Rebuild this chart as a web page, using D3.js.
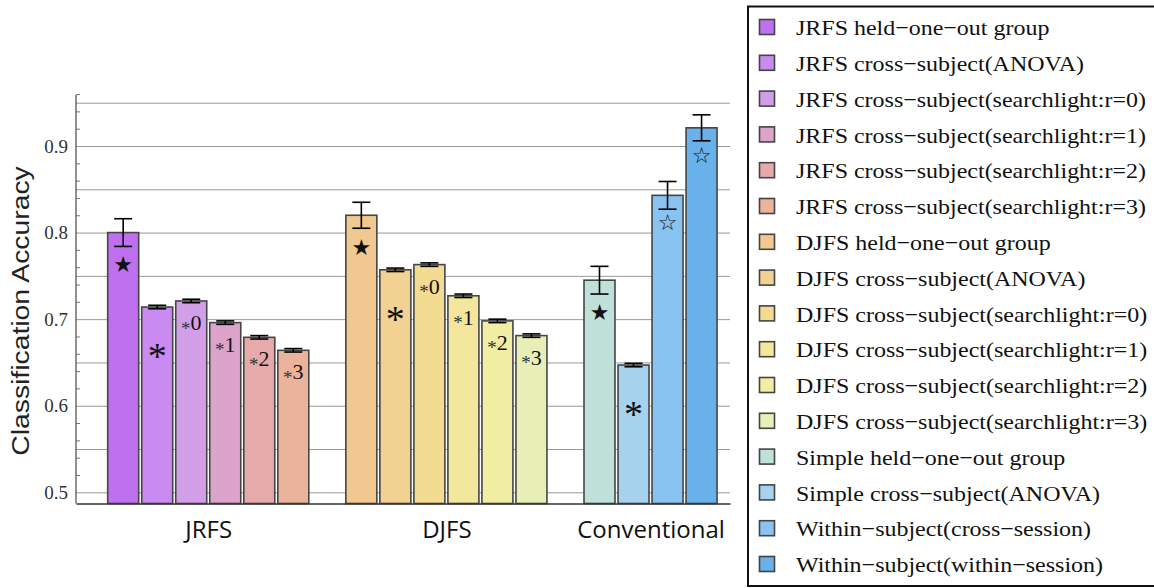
<!DOCTYPE html>
<html>
<head>
<meta charset="utf-8">
<script src="https://cdn.jsdelivr.net/npm/d3@7"></script>
<style>
  html, body { margin: 0; padding: 0; background: #fff; }
  svg { display: block; }
</style>
</head>
<body>
<svg id="chart" width="1154" height="588"></svg>
<script>
// Groups of bars along the x axis and how many bars each holds
const groups = ["JRFS", "DJFS", "Conventional"];
const groupSizes = [6, 6, 4];

// One entry per bar (also the legend rows)
const seriesNames = [
  "JRFS held\u2212one\u2212out group",
  "JRFS cross\u2212subject(ANOVA)",
  "JRFS cross\u2212subject(searchlight:r=0)",
  "JRFS cross\u2212subject(searchlight:r=1)",
  "JRFS cross\u2212subject(searchlight:r=2)",
  "JRFS cross\u2212subject(searchlight:r=3)",
  "DJFS held\u2212one\u2212out group",
  "DJFS cross\u2212subject(ANOVA)",
  "DJFS cross\u2212subject(searchlight:r=0)",
  "DJFS cross\u2212subject(searchlight:r=1)",
  "DJFS cross\u2212subject(searchlight:r=2)",
  "DJFS cross\u2212subject(searchlight:r=3)",
  "Simple held\u2212one\u2212out group",
  "Simple cross\u2212subject(ANOVA)",
  "Within\u2212subject(cross\u2212session)",
  "Within\u2212subject(within\u2212session)"
];
const accuracy = [0.800, 0.714, 0.721, 0.696, 0.679, 0.664,
                  0.820, 0.757, 0.763, 0.727, 0.698, 0.681,
                  0.745, 0.647, 0.843, 0.921];
const errors   = [0.016, 0.002, 0.002, 0.002, 0.002, 0.002,
                  0.015, 0.002, 0.002, 0.002, 0.002, 0.002,
                  0.016, 0.002, 0.016, 0.015];
const markers  = ["\u2605", "*", "*0", "*1", "*2", "*3",
                  "\u2605", "*", "*0", "*1", "*2", "*3",
                  "\u2605", "*", "\u2606", "\u2606"];
const colors   = ["#bf70ef", "#c98af1", "#d39ee8", "#dca3cb", "#e6aaab", "#ebb39c",
                  "#f0c890", "#f2d292", "#f3dc92", "#f3e69d", "#f1eea3", "#e7efb7",
                  "#c0e0da", "#a7d2ee", "#89c3f2", "#69b1ea"];
const yTicks = [0.5, 0.6, 0.7, 0.8, 0.9];

// slot index of each bar: groups are separated by one empty slot
const bars = [];
let idx = 0;
groupSizes.forEach((n, g) => {
  const start = groupSizes.slice(0, g).reduce((a, b) => a + b + 1, 0);
  for (let k = 0; k < n; k++, idx++) {
    bars.push({ i: idx, slot: start + k, value: accuracy[idx], err: errors[idx],
                mark: markers[idx], color: colors[idx], name: seriesNames[idx] });
  }
});
const groupCenters = groupSizes.map((n, g) => {
  const start = groupSizes.slice(0, g).reduce((a, b) => a + b + 1, 0);
  return start + (n - 1) / 2;
});

const svg = d3.select("#chart");
const plotLeft = 76, plotRight = 730, plotTop = 95, plotBottom = 503.5;

const y = d3.scaleLinear().domain([0.5, 0.9]).range([492.3, 146]);
const yBase = y.invert(plotBottom);
const x = d3.scaleLinear().domain([-1.387, 17.836]).range([plotLeft, plotRight]);
const barW = 31;

// gridlines every 0.05
const gridVals = d3.range(0.5, 0.951, 0.05);
svg.append("g")
  .attr("transform", `translate(${plotLeft},0)`)
  .call(d3.axisLeft(y).tickValues(gridVals).tickSize(-(plotRight - plotLeft)).tickFormat(""))
  .call(g => g.select(".domain").remove())
  .call(g => g.selectAll("line").attr("stroke", "#999").attr("stroke-width", 1));

// minor ticks on the y axis
const minorVals = d3.range(0.5, 0.961, 0.02).filter(v => Math.abs(v * 10 - Math.round(v * 10)) > 1e-6);
svg.append("g")
  .attr("transform", `translate(${plotLeft},0)`)
  .call(d3.axisLeft(y).tickValues(minorVals).tickSize(-4).tickFormat(""))
  .call(g => g.select(".domain").remove())
  .call(g => g.selectAll("line").attr("stroke", "#777").attr("stroke-width", 1));

// bars
svg.append("g").selectAll("rect").data(bars).join("rect")
  .attr("x", d => x(d.slot) - barW / 2)
  .attr("y", d => y(d.value))
  .attr("width", barW)
  .attr("height", d => y(yBase) - y(d.value))
  .attr("fill", d => d.color)
  .attr("stroke", "#454545")
  .attr("stroke-width", 1.6);

// error bars
const eb = svg.append("g").attr("stroke", "#000").attr("stroke-width", 1.6);
bars.forEach(d => {
  const cx = x(d.slot);
  eb.append("line").attr("x1", cx).attr("x2", cx).attr("y1", y(d.value + d.err)).attr("y2", y(d.value - d.err));
  eb.append("line").attr("x1", cx - 9).attr("x2", cx + 9).attr("y1", y(d.value + d.err)).attr("y2", y(d.value + d.err));
  eb.append("line").attr("x1", cx - 9).attr("x2", cx + 9).attr("y1", y(d.value - d.err)).attr("y2", y(d.value - d.err));
});

// significance markers inside bars
const mg = svg.append("g");
bars.forEach(d => {
  const cx = x(d.slot);
  const t = mg.append("text").attr("x", cx).attr("text-anchor", "middle").attr("fill", "#111");
  if (d.mark === "\u2605" || d.mark === "\u2606") {
    const off = d.mark === "\u2605" ? 32 : 27;
    t.attr("y", y(d.value) + off).attr("dy", "0.36em")
     .attr("font-family", "DejaVu Sans").attr("font-size", 22).text(d.mark);
  } else if (d.mark === "*") {
    // serif asterisk sits high in the em box, so push it down
    t.attr("y", y(d.value) + 39).attr("dy", "0.6em")
     .attr("font-family", "Liberation Serif").attr("font-size", 38).text(d.mark);
  } else {
    t.attr("y", y(d.value) + 29).attr("dy", "0.34em")
     .attr("font-family", "Liberation Serif");
    t.append("tspan").attr("font-size", 19).attr("dy", "0.24em").attr("fill", "#333").text(d.mark[0]);
    t.append("tspan").attr("font-size", 22).attr("dy", "-0.2em").text(d.mark.slice(1));
  }
});

// y axis
svg.append("g")
  .attr("transform", `translate(${plotLeft},0)`)
  .call(d3.axisLeft(y).tickValues(yTicks).tickSize(0).tickPadding(8).tickFormat(d3.format(".1f")))
  .call(g => g.select(".domain").remove())
  .call(g => g.selectAll("text").attr("font-family", "Liberation Serif").attr("font-size", 19).attr("fill", "#333"));
svg.append("line").attr("x1", plotLeft).attr("x2", plotLeft).attr("y1", plotTop).attr("y2", plotBottom)
  .attr("stroke", "#555").attr("stroke-width", 1.3);

// x axis with group labels
svg.append("g")
  .attr("transform", `translate(0,${plotBottom})`)
  .call(d3.axisBottom(x).tickValues(groupCenters).tickSize(0).tickPadding(17)
        .tickFormat((d, i) => groups[i]))
  .call(g => g.select(".domain").attr("stroke", "#333").attr("stroke-width", 1.6))
  .call(g => g.selectAll("text").attr("font-family", "Open Sans").attr("font-size", 24).attr("fill", "#111"));

// y axis title
svg.append("text")
  .attr("transform", "translate(29,311) rotate(-90) scale(1.18,1)")
  .attr("text-anchor", "middle")
  .attr("font-family", "Liberation Sans").attr("font-size", 24).attr("fill", "#222")
  .text("Classification Accuracy");

// legend
const lg = svg.append("g");
lg.append("rect").attr("x", 748).attr("y", 6.5).attr("width", 500).attr("height", 579.5)
  .attr("fill", "#fff").attr("stroke", "#111").attr("stroke-width", 2);
const rows = lg.selectAll("g.row").data(bars).join("g").attr("class", "row")
  .attr("transform", (d, i) => `translate(0,${28 + i * 35.8})`);
rows.append("rect").attr("x", 759.5).attr("y", -8.5).attr("width", 15).attr("height", 15)
  .attr("fill", d => d.color).attr("stroke", "#444").attr("stroke-width", 1.6);
rows.append("text")
  .attr("transform", "translate(796,0) scale(1.09,1)")
  .attr("dy", "0.33em")
  .attr("font-family", "Liberation Serif").attr("font-size", 22).attr("fill", "#111")
  .text(d => d.name);
</script>
</body>
</html>
